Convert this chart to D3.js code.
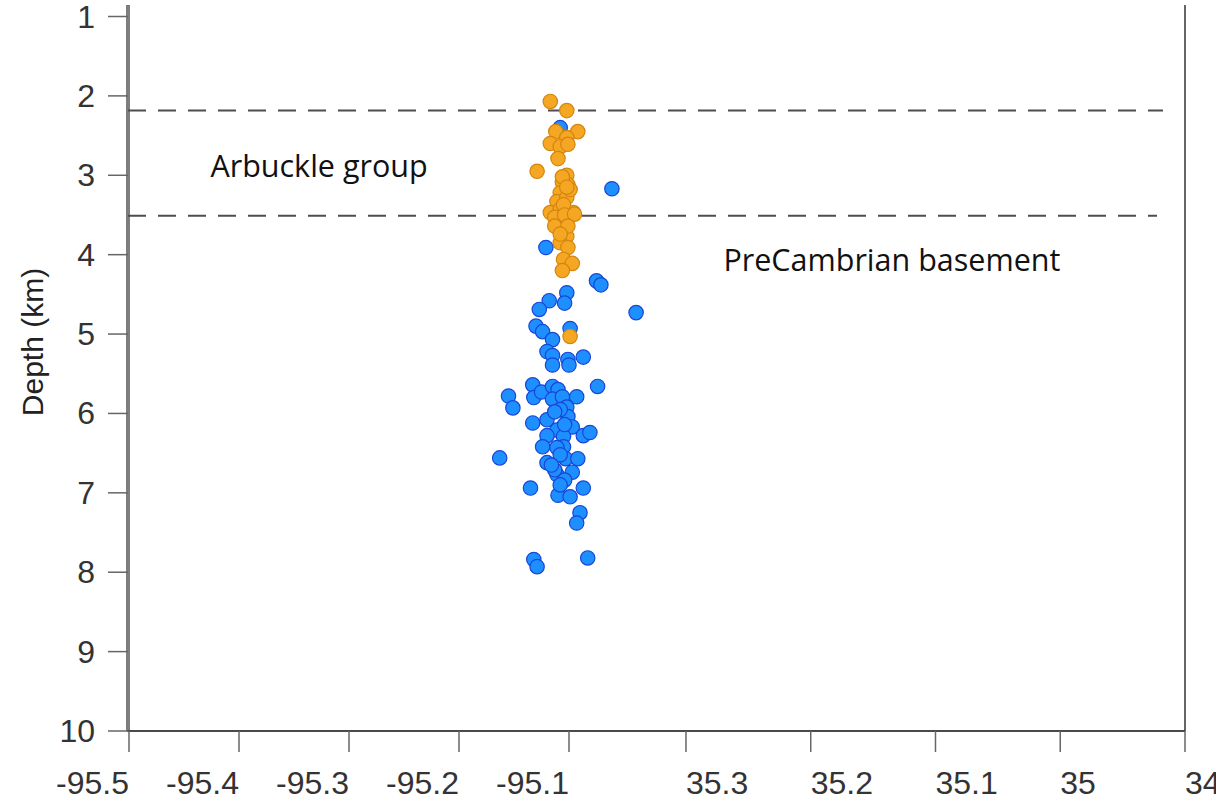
<!DOCTYPE html>
<html>
<head>
<meta charset="utf-8">
<script src="https://cdn.jsdelivr.net/npm/d3@7"></script>
<style>
  body { margin: 0; background: #fff; }
  svg { display: block; }
  .tick-label { font-family: "Liberation Sans", Arial, sans-serif; font-size: 32px; fill: #333; }
  .axis-title { font-family: "Liberation Sans", Arial, sans-serif; font-size: 30px; fill: #222; }
  .layer-label { font-family: "Open Sans", sans-serif; font-size: 30.5px; fill: #111; }
</style>
</head>
<body>
<script>
// Depth ticks (km) and the two x tick sets (longitude, then latitude)
const depthTicks = [1, 2, 3, 4, 5, 6, 7, 8, 9, 10];
const lonTicks = [-95.5, -95.4, -95.3, -95.2, -95.1];
const latTicks = [35.3, 35.2, 35.1, 35, 34.9];
const latTickLabels = ['35.3', '35.2', '35.1', '35', '34.9'];

// Formation boundaries (depth, km)
const boundaries = [2.185, 3.51];
const layerNames = ['Arbuckle group', 'PreCambrian basement'];

// Blue events: longitude / depth
const blueLon = [
  -95.108, -95.061, -95.121, -95.075, -95.071, -95.102, -95.118, -95.104, -95.127, -95.039,
  -95.130, -95.124, -95.099, -95.115, -95.120, -95.115, -95.101, -95.087, -95.115, -95.100,
  -95.074, -95.133, -95.155, -95.151, -95.132, -95.125, -95.115, -95.110, -95.115, -95.106,
  -95.093, -95.102, -95.101, -95.133, -95.120, -95.111, -95.097, -95.120, -95.105, -95.087,
  -95.081, -95.124, -95.105, -95.111, -95.163, -95.120, -95.103, -95.092, -95.097, -95.111,
  -95.113, -95.104, -95.135, -95.087, -95.110, -95.099, -95.090, -95.093, -95.132, -95.129,
  -95.083, -95.108, -95.113, -95.104, -95.108, -95.116, -95.108
];
const blueDepth = [
  2.40, 3.17, 3.91, 4.33, 4.38, 4.48, 4.58, 4.61, 4.69, 4.73,
  4.90, 4.97, 4.93, 5.07, 5.22, 5.27, 5.32, 5.29, 5.39, 5.39,
  5.66, 5.64, 5.78, 5.93, 5.80, 5.73, 5.66, 5.70, 5.82, 5.79,
  5.79, 5.92, 6.04, 6.12, 6.08, 6.21, 6.17, 6.28, 6.29, 6.28,
  6.24, 6.42, 6.42, 6.43, 6.56, 6.62, 6.57, 6.57, 6.74, 6.77,
  6.71, 6.84, 6.94, 6.94, 7.03, 7.05, 7.25, 7.38, 7.84, 7.93,
  7.82, 5.95, 5.98, 6.14, 6.52, 6.65, 6.90
];

// Orange events: longitude / depth
const orangeLon = [
  -95.117, -95.102, -95.112, -95.092, -95.102, -95.117, -95.108, -95.101, -95.110, -95.129,
  -95.102, -95.106, -95.101, -95.108, -95.111, -95.102, -95.117, -95.108, -95.096, -95.105,
  -95.113, -95.110, -95.102, -95.108, -95.101, -95.105, -95.097, -95.106, -95.099, -95.105,
  -95.099, -95.104, -95.095, -95.113, -95.101, -95.108, -95.106, -95.102
];
const orangeDepth = [
  2.07, 2.185, 2.45, 2.45, 2.525, 2.60, 2.64, 2.61, 2.79, 2.95,
  3.00, 3.09, 3.12, 3.22, 3.33, 3.28, 3.47, 3.43, 3.47, 3.56,
  3.53, 3.66, 3.77, 3.85, 3.91, 4.06, 4.11, 4.20, 5.03, 3.37,
  3.18, 3.50, 3.49, 3.64, 3.64, 3.74, 3.02, 3.15
];

const W = 1216, H = 807;
const svg = d3.select('body').append('svg').attr('width', W).attr('height', H);

// Scales: depth downwards, x axis is a composite of a longitude and a latitude section
const y = d3.scaleLinear().domain([1, 10]).range([16.5, 731]);
const xLon = d3.scaleLinear().domain([-95.5, -95.05]).range([129, 624]);
const xLat = d3.scaleLinear().domain([35.35, 34.9]).range([623.6, 1185]);

const axisColor = '#4a4a4a';
const plotLeft = xLon(-95.5) - 1, plotRight = xLat(34.9), plotBottom = y(10), plotTop = 5;

// Frame: left axis (double-ish), bottom axis, right border
svg.append('line').attr('x1', plotLeft).attr('x2', plotLeft).attr('y1', plotTop).attr('y2', plotBottom)
  .attr('stroke', '#555').attr('stroke-width', 3.5);
svg.append('line').attr('x1', plotLeft).attr('x2', plotLeft).attr('y1', plotTop).attr('y2', plotBottom)
  .attr('stroke', '#bbb').attr('stroke-width', 0.8);
svg.append('line').attr('x1', plotLeft - 1).attr('x2', plotRight).attr('y1', plotBottom).attr('y2', plotBottom)
  .attr('stroke', axisColor).attr('stroke-width', 2);
svg.append('line').attr('x1', plotRight).attr('x2', plotRight).attr('y1', plotTop).attr('y2', plotBottom)
  .attr('stroke', '#333').attr('stroke-width', 1.5);

// Y ticks
const yt = svg.append('g').selectAll('g').data(depthTicks).join('g')
  .attr('transform', d => `translate(0,${y(d)})`);
yt.append('line').attr('x1', plotLeft - 20).attr('x2', plotLeft)
  .attr('stroke', '#666').attr('stroke-width', 1.5);
yt.append('text').attr('class', 'tick-label')
  .attr('x', plotLeft - 33).attr('y', 11)
  .attr('text-anchor', 'end').text(d => d);

// X ticks — longitude part (labels right-aligned to tick)
const lt = svg.append('g').selectAll('g').data(lonTicks).join('g')
  .attr('transform', d => `translate(${xLon(d)},0)`);
lt.append('line').attr('y1', plotBottom).attr('y2', plotBottom + 21)
  .attr('stroke', '#666').attr('stroke-width', 1.5);
lt.append('text').attr('class', 'tick-label')
  .attr('y', 794).attr('text-anchor', 'end').text(d => d);

// X ticks — latitude part (labels left-aligned to tick)
const at = svg.append('g').selectAll('g').data(latTicks).join('g')
  .attr('transform', d => `translate(${xLat(d)},0)`);
at.append('line').attr('y1', plotBottom).attr('y2', plotBottom + 21)
  .attr('stroke', '#666').attr('stroke-width', 1.5);
at.append('text').attr('class', 'tick-label')
  .attr('y', 794).attr('text-anchor', 'start').text((d, i) => latTickLabels[i]);

// Axis title
svg.append('text').attr('class', 'axis-title')
  .attr('transform', `translate(43,${y(5.1)}) rotate(-90)`)
  .attr('text-anchor', 'middle').text('Depth (km)');

// Boundary lines
svg.append('g').selectAll('line').data(boundaries).join('line')
  .attr('x1', plotLeft).attr('x2', (d, i) => i === 0 ? 1163 : 1157)
  .attr('y1', d => y(d)).attr('y2', d => y(d))
  .attr('stroke', '#4d4d4d').attr('stroke-width', 2)
  .attr('stroke-dasharray', '18 12');

// Layer labels
svg.append('text').attr('class', 'layer-label')
  .attr('x', xLon(-95.426)).attr('y', y(3.02)).text(layerNames[0]);
svg.append('text').attr('class', 'layer-label')
  .attr('x', xLat(35.27)).attr('y', y(4.20)).text(layerNames[1]);

// Events
const blue = blueLon.map((d, i) => ({ lon: d, depth: blueDepth[i] }));
const orange = orangeLon.map((d, i) => ({ lon: d, depth: orangeDepth[i] }));

svg.append('g').selectAll('circle').data(blue).join('circle')
  .attr('cx', d => xLon(d.lon)).attr('cy', d => y(d.depth)).attr('r', 7.2)
  .attr('fill', '#1e8fff').attr('stroke', '#1846d6').attr('stroke-width', 1.2);

svg.append('g').selectAll('circle').data(orange).join('circle')
  .attr('cx', d => xLon(d.lon)).attr('cy', d => y(d.depth)).attr('r', 7.2)
  .attr('fill', '#f5a623').attr('stroke', '#d3860e').attr('stroke-width', 1.2);
</script>
</body>
</html>
